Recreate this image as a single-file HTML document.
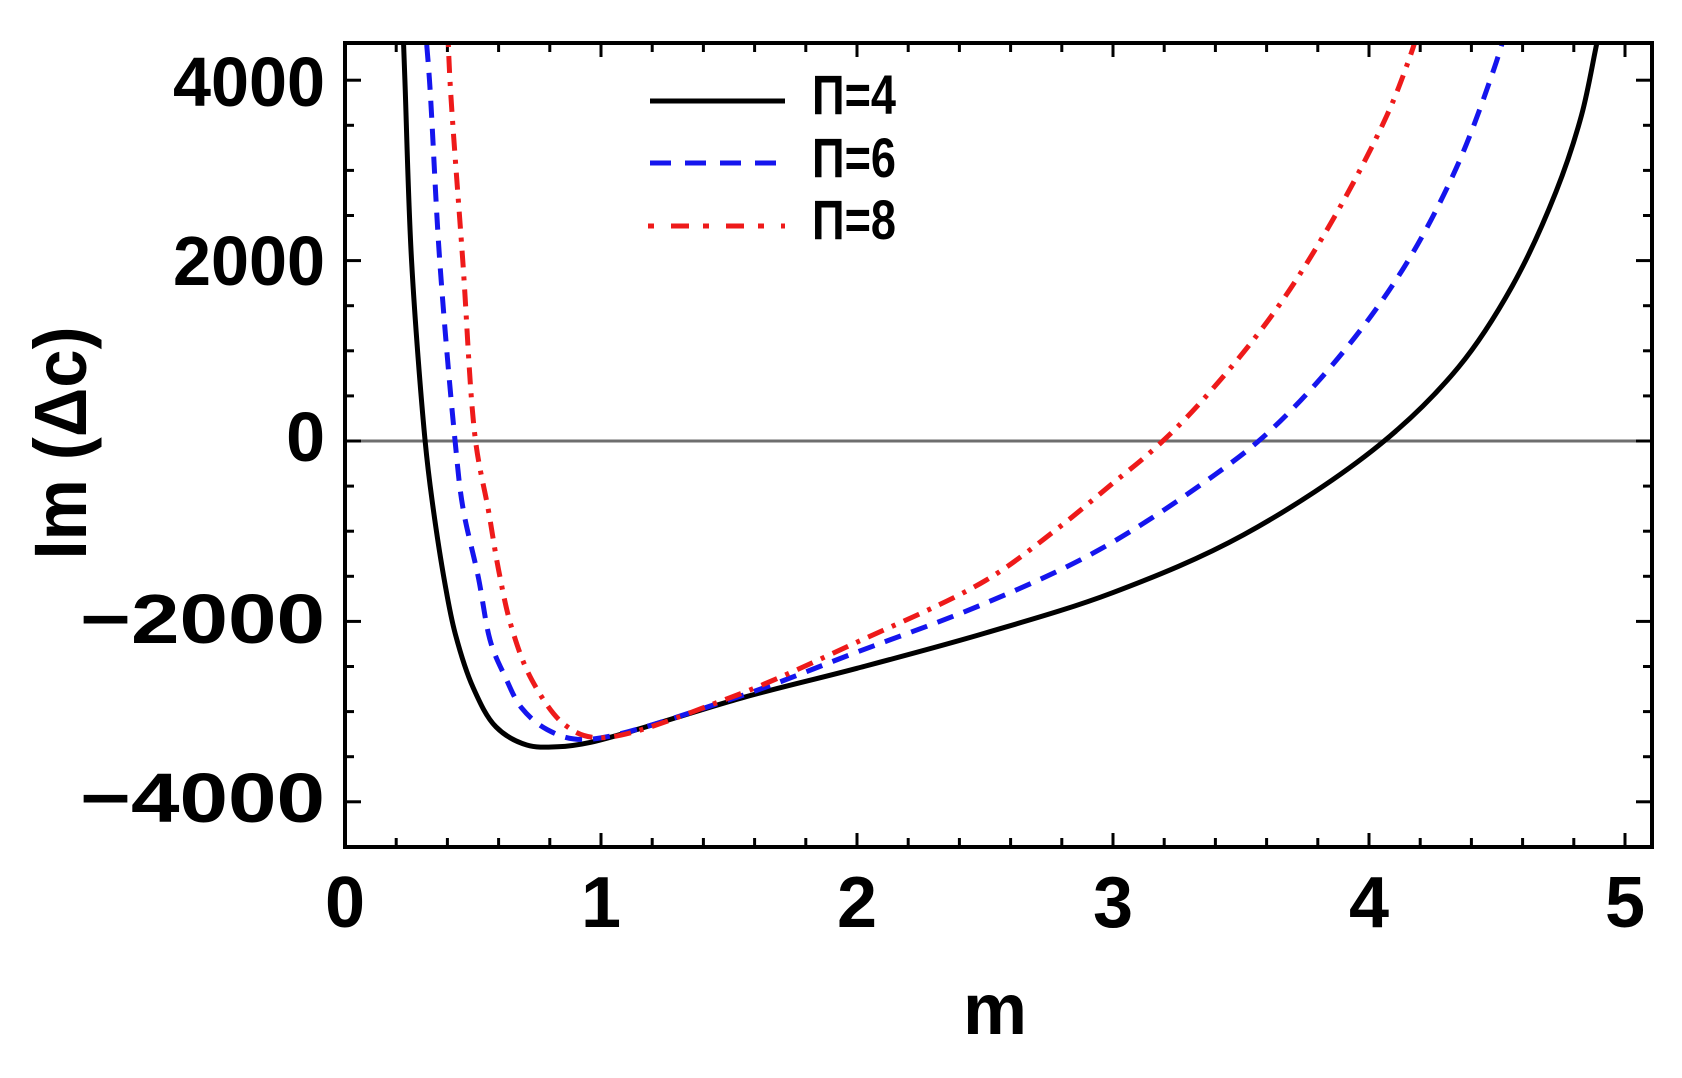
<!DOCTYPE html>
<html><head><meta charset="utf-8"><style>html,body{margin:0;padding:0;background:#fff}svg{display:block}</style></head>
<body>
<svg id="s" width="1682" height="1078" viewBox="0 0 1682 1078" xmlns="http://www.w3.org/2000/svg" font-family="Liberation Sans, sans-serif" font-weight="bold">
<defs><clipPath id="c"><rect x="345" y="43" width="1307" height="804"/></clipPath></defs>
<rect width="1682" height="1078" fill="#fff"/>
<line x1="345" y1="441" x2="1652" y2="441" stroke="#6e6e6e" stroke-width="3"/>
<g id="ticks" stroke="#000" stroke-width="3"></g>
<g clip-path="url(#c)" fill="none" stroke-linejoin="round">
<path id="pb" stroke="#000" stroke-width="5"/>
<path id="pu" stroke="#1515ee" stroke-width="5" stroke-dasharray="17,11"/>
<path id="pr" stroke="#ee1a1a" stroke-width="5" stroke-dasharray="17,9,4,9"/>
</g>
<rect x="345" y="43" width="1307" height="804" fill="none" stroke="#000" stroke-width="4"/>
<line x1="650" y1="101" x2="785" y2="101" stroke="#000" stroke-width="5"/>
<line x1="650" y1="163" x2="785" y2="163" stroke="#1515ee" stroke-width="5" stroke-dasharray="21,14"/>
<line x1="648" y1="226" x2="785" y2="226" stroke="#ee1a1a" stroke-width="5" stroke-dasharray="6,17,18,14"/>
<g font-size="56">
<text x="812" y="114" textLength="84" lengthAdjust="spacingAndGlyphs">Π=4</text>
<text x="812" y="177" textLength="84" lengthAdjust="spacingAndGlyphs">Π=6</text>
<text x="812" y="239" textLength="84" lengthAdjust="spacingAndGlyphs">Π=8</text>
</g>
<g font-size="70" text-anchor="end">
<text x="325" y="106" textLength="152" lengthAdjust="spacingAndGlyphs">4000</text>
<text x="325" y="285" textLength="152" lengthAdjust="spacingAndGlyphs">2000</text>
<text x="325" y="461">0</text>
<text x="325" y="643" textLength="245" lengthAdjust="spacingAndGlyphs">−2000</text>
<text x="325" y="822" textLength="245" lengthAdjust="spacingAndGlyphs">−4000</text>
</g>
<g font-size="72" text-anchor="middle">
<text x="345" y="927">0</text><text x="601" y="927">1</text><text x="857" y="927">2</text>
<text x="1113" y="927">3</text><text x="1369" y="927">4</text><text x="1625" y="927">5</text>
<text x="995" y="1034">m</text>
</g>
<text transform="translate(86,443) rotate(-90)" font-size="74" text-anchor="middle" textLength="233" lengthAdjust="spacingAndGlyphs">Im (Δc)</text>
</svg>
<script>
function X(m){return 345+256*m}function Y(v){return 441-0.0902*v}
function path(p){var q=p.map(function(a){return [X(a[0]),Y(a[1])]});var n=q.length;
var s=[2*q[0][0]-q[1][0],2*q[0][1]-q[1][1]],e=[2*q[n-1][0]-q[n-2][0],2*q[n-1][1]-q[n-2][1]];
q=[s].concat(q).concat([e]);
function D(a,b){return Math.sqrt(Math.sqrt((a[0]-b[0])*(a[0]-b[0])+(a[1]-b[1])*(a[1]-b[1])))||1e-4}
var d="M"+q[1][0]+","+q[1][1];
for(var i=1;i<q.length-2;i++){var p0=q[i-1],p1=q[i],p2=q[i+1],p3=q[i+2];
var d1=D(p0,p1),d2=D(p1,p2),d3=D(p2,p3);var b1=[],b2=[];
for(var k=0;k<2;k++){
b1[k]=(d1*d1*p2[k]-d2*d2*p0[k]+(2*d1*d1+3*d1*d2+d2*d2)*p1[k])/(3*d1*(d1+d2));
b2[k]=(d3*d3*p1[k]-d2*d2*p3[k]+(2*d3*d3+3*d3*d2+d2*d2)*p2[k])/(3*d3*(d3+d2));}
d+=" C"+b1[0]+","+b1[1]+" "+b2[0]+","+b2[1]+" "+p2[0]+","+p2[1];}
return d;}
var B=[[0.225,4700],[0.234,4000],[0.26,2000],[0.313,0],[0.34,-655],[0.39,-1575],[0.43,-2130],[0.50,-2730],[0.59,-3170],[0.71,-3370],[0.83,-3390],[0.96,-3340],[1.56,-2840],[2,-2520],[2.5,-2130],[3.0,-1680],[3.51,-1040],[4.04,-45],[4.35,820],[4.56,1720],[4.73,2760],[4.83,3610],[4.89,4410],[4.92,4800]];
var U=[[0.31,4700],[0.33,4000],[0.37,2000],[0.43,0],[0.46,-730],[0.52,-1500],[0.57,-2240],[0.625,-2610],[0.69,-2960],[0.79,-3200],[0.93,-3310],[1.5,-2870],[2,-2340],[2.5,-1800],[2.95,-1200],[3.40,-370],[3.62,130],[3.90,990],[4.14,1940],[4.34,3020],[4.49,4140],[4.55,4700]];
var R=[[0.40,4700],[0.41,4000],[0.46,2000],[0.51,0],[0.56,-765],[0.60,-1430],[0.65,-2060],[0.73,-2650],[0.86,-3150],[0.99,-3290],[1.5,-2850],[2,-2230],[2.5,-1550],[2.77,-1000],[2.99,-490],[3.16,-90],[3.33,390],[3.62,1390],[3.86,2460],[4.07,3610],[4.16,4260],[4.21,4700]];
document.getElementById("pb").setAttribute("d",path(B));
document.getElementById("pu").setAttribute("d",path(U));
document.getElementById("pr").setAttribute("d",path(R));
var g=document.getElementById("ticks"),s="";
for(var i=0;i<=25;i++){var m=i*0.2,x=X(m);if(x>1650)break;var L=(i%5==0)?14:9;
s+='<line x1="'+x+'" y1="847" x2="'+x+'" y2="'+(847-L)+'"/><line x1="'+x+'" y1="43" x2="'+x+'" y2="'+(43+L)+'"/>';}
for(var v=-4500;v<=4000;v+=500){var y=Y(v);var L=(v%2000==0)?16:9;
s+='<line x1="345" y1="'+y+'" x2="'+(345+L)+'" y2="'+y+'"/><line x1="1652" y1="'+y+'" x2="'+(1652-L)+'" y2="'+y+'"/>';}
g.innerHTML=s;
</script>
</body></html>
